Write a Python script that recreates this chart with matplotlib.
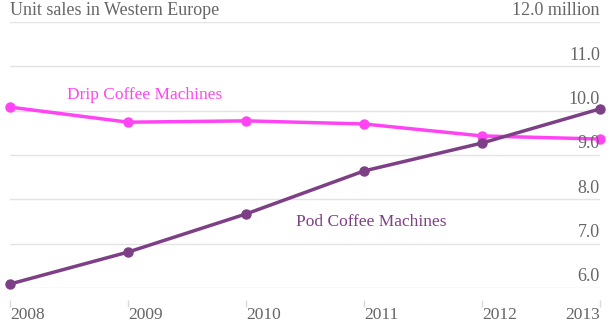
import matplotlib
matplotlib.use("Agg")
import matplotlib.pyplot as plt
import matplotlib.transforms as mtransforms

years = [2008, 2009, 2010, 2011, 2012, 2013]
drip = [10.08, 9.74, 9.77, 9.70, 9.43, 9.36]
pod = [6.09, 6.81, 7.67, 8.64, 9.27, 10.04]
yticks = [6.0, 7.0, 8.0, 9.0, 10.0, 11.0]
title = "Unit sales in Western Europe"
top_label = "12.0 million"

drip_color = "#ff45f3"
pod_color = "#7d3f85"
text_color = "#666666"
grid_color = "#e3e3e3"

plt.rcParams['font.family'] = ['Liberation Serif', 'DejaVu Serif']

W, H = 614, 323
fig = plt.figure(figsize=(W / 100, H / 100), dpi=100)
left, right = 10 / W, 600 / W
bottom, top = (H - 288) / H, (H - 22) / H
ax = fig.add_axes([left, bottom, right - left, top - bottom])
ax.set_xlim(2008, 2013)
ax.set_ylim(6, 12)

for v in yticks + [12.0]:
    ax.axhline(v, color=grid_color, lw=1, zorder=0)

ax.plot(years, drip, color=drip_color, lw=2.5, marker='o', ms=6.5, zorder=3, clip_on=False)
ax.plot(years, pod, color=pod_color, lw=2.5, marker='o', ms=6.5, zorder=4, clip_on=False)

trans = mtransforms.blended_transform_factory(ax.transAxes, ax.transData)
for v in yticks:
    ax.text(1.0, v + 0.06, f"{v:.1f}", transform=trans, ha='right', va='bottom',
            fontsize=13, color=text_color)
ax.text(1.0, 12.06, top_label, transform=trans, ha='right', va='bottom',
        fontsize=13, color=text_color)
ax.text(0.0, 12.06, title, transform=trans, ha='left', va='bottom',
        fontsize=13, color=text_color)

ax.text(2008.485, 10.36, "Drip Coffee Machines", ha='left', va='center',
        fontsize=12.5, color=drip_color)
ax.text(2010.42, 7.5, "Pod Coffee Machines", ha='left', va='center',
        fontsize=12.5, color=pod_color)

ax.set_yticks([])
ax.set_xticks(years)
ax.set_xticklabels([str(y) for y in years])
ax.tick_params(axis='x', length=5, width=1, color='#d8d8d8', pad=0.5, direction='out',
               labelsize=12.5, labelcolor=text_color)
for s in ['left', 'right', 'top']:
    ax.spines[s].set_visible(False)
ax.spines['bottom'].set_position(('outward', 8.5))
ax.spines['bottom'].set_visible(False)

labels = ax.get_xticklabels()
for lab in labels[:-1]:
    lab.set_ha('left')
labels[-1].set_ha('right')

fig.savefig("out.png", dpi=100)
